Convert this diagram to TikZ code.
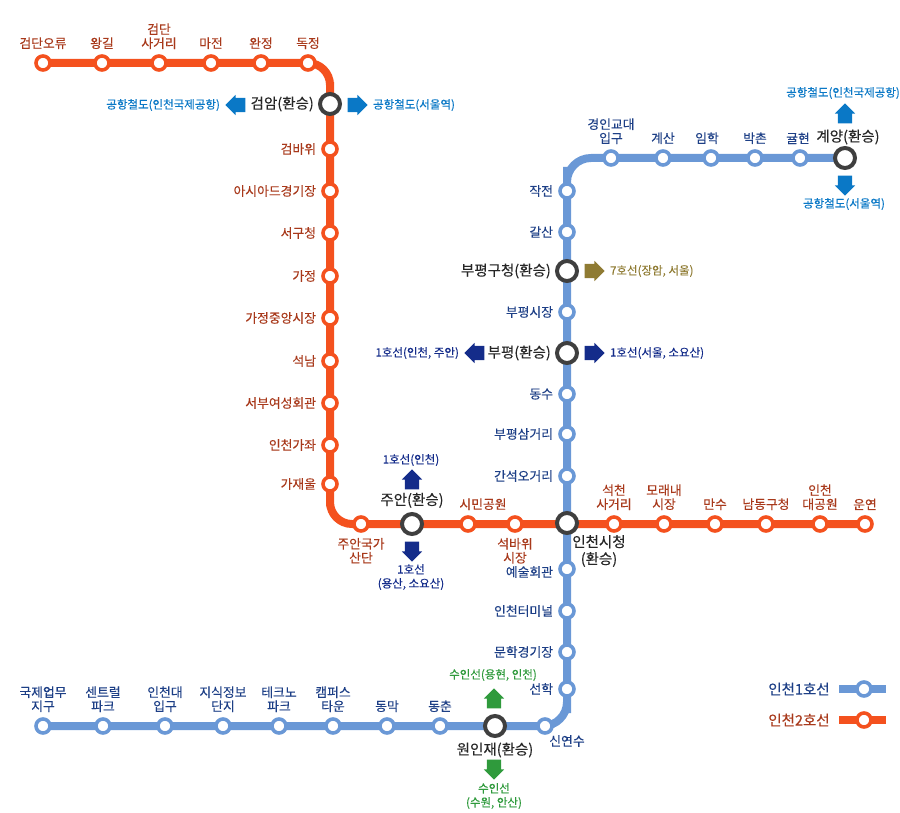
\documentclass[tikz,border=0pt]{standalone}
\usepackage{fontspec}
\usepackage{xcolor}
\usetikzlibrary{positioning, shapes.arrows, backgrounds}
\setmainfont{Noto Sans CJK KR}[FakeBold=0.25]
\definecolor{lineone}{HTML}{6A98D6}
\definecolor{linetwo}{HTML}{F4511E}
\definecolor{textone}{HTML}{1D3F86}
\definecolor{texttwo}{HTML}{A8391B}
\definecolor{hubgray}{HTML}{3F3F3F}
\definecolor{airblue}{HTML}{0A78C6}
\definecolor{navyblue}{HTML}{142C8A}
\definecolor{olivebrown}{HTML}{8F7B33}
\definecolor{subgreen}{HTML}{2F9A3C}
\tikzset{
  st1/.style={circle, draw=lineone, fill=white, line width=3.6pt, minimum size=14pt, inner sep=0pt},
  st2/.style={circle, draw=linetwo, fill=white, line width=3.6pt, minimum size=14pt, inner sep=0pt},
  hub/.style={circle, draw=hubgray, fill=white, line width=4pt, minimum size=20pt, inner sep=0pt},
  line1/.style={draw=lineone, line width=8pt},
  line2/.style={draw=linetwo, line width=8pt},
  lab1/.style={text=textone, font=\fontsize{12.8}{14}\selectfont, align=center, inner sep=1pt, label distance=4pt},
  lab2/.style={text=texttwo, font=\fontsize{12.8}{14}\selectfont, align=center, inner sep=1pt, label distance=4pt},
  hublab/.style={text=black!85, font=\fontsize{14.5}{17}\selectfont, align=center, inner sep=1pt, label distance=3pt},
  xfer/.style={font=\fontsize{11.5}{14}\selectfont, align=center, inner sep=0pt},
  xarrow/.style={single arrow, minimum height=20pt, single arrow head extend=3pt, single arrow tip angle=90, inner xsep=0pt, inner ysep=7pt},
  yarrow/.style={single arrow, minimum height=20pt, single arrow head extend=3pt, single arrow tip angle=90, inner xsep=7pt, inner ysep=0pt}
}
\begin{document}
\begin{tikzpicture}[x=1pt, y=-1pt]
\useasboundingbox (0,0) rectangle (900,813);

\node[st2, label={[lab2]90:검단오류}] (r1) at (43, 63) {};
\node[st2, label={[lab2]90:왕길}] (r2) at (102, 63) {};
\node[st2, label={[lab2]90:검단\\사거리}] (r3) at (159, 63) {};
\node[st2, label={[lab2]90:마전}] (r4) at (211, 63) {};
\node[st2, label={[lab2]90:완정}] (r5) at (261, 63) {};
\node[st2, label={[lab2]90:독정}] (r6) at (308, 63) {};
\node[hub, label={[hublab]180:검암(환승)}] (r7) at (330, 104) {};
\node[st2, label={[lab2]180:검바위}] (r8) at (330, 149) {};
\node[st2, label={[lab2]180:아시아드경기장}] (r9) at (330, 191) {};
\node[st2, label={[lab2]180:서구청}] (r10) at (330, 233) {};
\node[st2, label={[lab2]180:가정}] (r11) at (330, 276) {};
\node[st2, label={[lab2]180:가정중앙시장}] (r12) at (330, 318) {};
\node[st2, label={[lab2]180:석남}] (r13) at (330, 361) {};
\node[st2, label={[lab2]180:서부여성회관}] (r14) at (330, 403) {};
\node[st2, label={[lab2]180:인천가좌}] (r15) at (330, 445) {};
\node[st2, label={[lab2]180:가재울}] (r16) at (330, 484) {};
\node[st2, label={[lab2]270:주안국가\\산단}] (r17) at (361, 524) {};
\node[hub, label={[hublab]90:주안(환승)}] (r18) at (412, 524) {};
\node[st2, label={[lab2, xshift=15pt]90:시민공원}] (r19) at (468, 524) {};
\node[st2, label={[lab2]270:석바위\\시장}] (r20) at (515, 524) {};
\node[hub] (r21) at (567, 523) {};
\node[st2, label={[lab2]90:석천\\사거리}] (r22) at (614, 524) {};
\node[st2, label={[lab2]90:모래내\\시장}] (r23) at (664, 524) {};
\node[st2, label={[lab2]90:만수}] (r24) at (715, 524) {};
\node[st2, label={[lab2]90:남동구청}] (r25) at (766, 524) {};
\node[st2, label={[lab2]90:인천\\대공원}] (r26) at (820, 524) {};
\node[st2, label={[lab2]90:운연}] (r27) at (865, 524) {};

\node[hub] (b1) at (845, 158) {};
\node[st1, label={[lab1, xshift=-2pt]90:귤현}] (b2) at (800, 158) {};
\node[st1, label={[lab1]90:박촌}] (b3) at (755, 158) {};
\node[st1, label={[lab1, xshift=-4pt]90:임학}] (b4) at (711, 158) {};
\node[st1, label={[lab1]90:계산}] (b5) at (663, 158) {};
\node[st1, label={[lab1]90:경인교대\\입구}] (b6) at (611, 158) {};
\node[st1, label={[lab1]180:작전}] (b7) at (567, 191) {};
\node[st1, label={[lab1]180:갈산}] (b8) at (567, 232) {};
\node[hub, label={[hublab]180:부평구청(환승)}] (b9) at (567, 271) {};
\node[st1, label={[lab1]180:부평시장}] (b10) at (567, 312) {};
\node[hub, label={[hublab]180:부평(환승)}] (b11) at (567, 353) {};
\node[st1, label={[lab1]180:동수}] (b12) at (567, 394) {};
\node[st1, label={[lab1]180:부평삼거리}] (b13) at (567, 434) {};
\node[st1, label={[lab1]180:간석오거리}] (b14) at (567, 476) {};
\node[st1, label={[lab1, yshift=-3pt]180:예술회관}] (b15) at (567, 569) {};
\node[st1, label={[lab1]180:인천터미널}] (b16) at (567, 611) {};
\node[st1, label={[lab1]180:문학경기장}] (b17) at (567, 652) {};
\node[st1, label={[lab1]180:선학}] (b18) at (567, 689) {};
\node[st1] (b19) at (545, 726) {};
\node[hub] (b20) at (495, 726) {};
\node[st1, label={[lab1]90:동춘}] (b21) at (440, 726) {};
\node[st1, label={[lab1]90:동막}] (b22) at (387, 726) {};
\node[st1, label={[lab1]90:캠퍼스\\타운}] (b23) at (333, 726) {};
\node[st1, label={[lab1]90:테크노\\파크}] (b24) at (279, 726) {};
\node[st1, label={[lab1]90:지식정보\\단지}] (b25) at (223, 726) {};
\node[st1, label={[lab1]90:인천대\\입구}] (b26) at (165, 726) {};
\node[st1, label={[lab1]90:센트럴\\파크}] (b27) at (103, 726) {};
\node[st1, label={[lab1]90:국제업무\\지구}] (b28) at (43, 726) {};

\node[hublab] (hubtxt1) at (848, 137) {계양(환승)};
\node[hublab] (hubtxt2) at (599, 551) {인천시청\\(환승)};
\node[hublab] (hubtxt3) at (495, 750) {원인재(환승)};
\node[lab1] (sinyeonsu) at (567, 741) {신연수};

\node[xarrow, fill=airblue, shape border rotate=180] (arr1) at (239, 105) {};
\node[xfer, text=airblue, left=5pt of arr1] (xf1) {공항철도(인천국제공항)};
\node[xarrow, fill=airblue] (arr2) at (354, 105) {};
\node[xfer, text=airblue, right=5pt of arr2] (xf2) {공항철도(서울역)};
\node[yarrow, fill=airblue, shape border rotate=90] (arr3) at (845, 117) {};
\node[xfer, text=airblue] (xf3) at (843, 93) {공항철도(인천국제공항)};
\node[yarrow, fill=airblue, shape border rotate=270] (arr4) at (845, 182) {};
\node[xfer, text=airblue] (xf4) at (844, 204) {공항철도(서울역)};
\node[xarrow, fill=olivebrown] (arr5) at (591, 271) {};
\node[xfer, text=olivebrown, right=5pt of arr5] (xf5) {7호선(장암, 서울)};
\node[xarrow, fill=navyblue, shape border rotate=180] (arr6) at (478, 353) {};
\node[xfer, text=navyblue, left=5pt of arr6] (xf6) {1호선(인천, 주안)};
\node[xarrow, fill=navyblue] (arr7) at (591, 353) {};
\node[xfer, text=navyblue, right=5pt of arr7] (xf7) {1호선(서울, 소요산)};
\node[yarrow, fill=navyblue, shape border rotate=90] (arr8) at (412, 483) {};
\node[xfer, text=navyblue] (xf8) at (411, 460) {1호선(인천)};
\node[yarrow, fill=navyblue, shape border rotate=270] (arr9) at (412, 548) {};
\node[xfer, text=navyblue] (xf9) at (411, 577) {1호선\\(용산, 소요산)};
\node[yarrow, fill=subgreen, shape border rotate=90] (arr10) at (494, 702) {};
\node[xfer, text=subgreen] (xf10) at (493, 675) {수인선(용현, 인천)};
\node[yarrow, fill=subgreen, shape border rotate=270] (arr11) at (494, 766) {};
\node[xfer, text=subgreen] (xf11) at (494, 796) {수인선\\(수원, 안산)};

\node[lab1, font=\fontsize{14.5}{17}\selectfont] (key1) at (799, 689) {인천1호선};
\node[lab2, font=\fontsize{14.5}{17}\selectfont] (key2) at (799, 720) {인천2호선};
\node[st1] (key1st) at (864, 689) {};
\node[st2] (key2st) at (864, 720) {};
\coordinate (key1a) at (839, 689);
\coordinate (key1b) at (886, 689);
\coordinate (key2a) at (839, 720);
\coordinate (key2b) at (886, 720);

\begin{scope}[on background layer]
\draw[line1, rounded corners=24pt] (b1.center) -| (b7.center) -- (b18.center) |- (b28.center);
\draw[line2, rounded corners=22pt] (r1.center) -| (r7.center) -- (r16.center) |- (r27.center);
\draw[line1] (key1a) -- (key1b);
\draw[line2] (key2a) -- (key2b);
\end{scope}
\end{tikzpicture}
\end{document}
